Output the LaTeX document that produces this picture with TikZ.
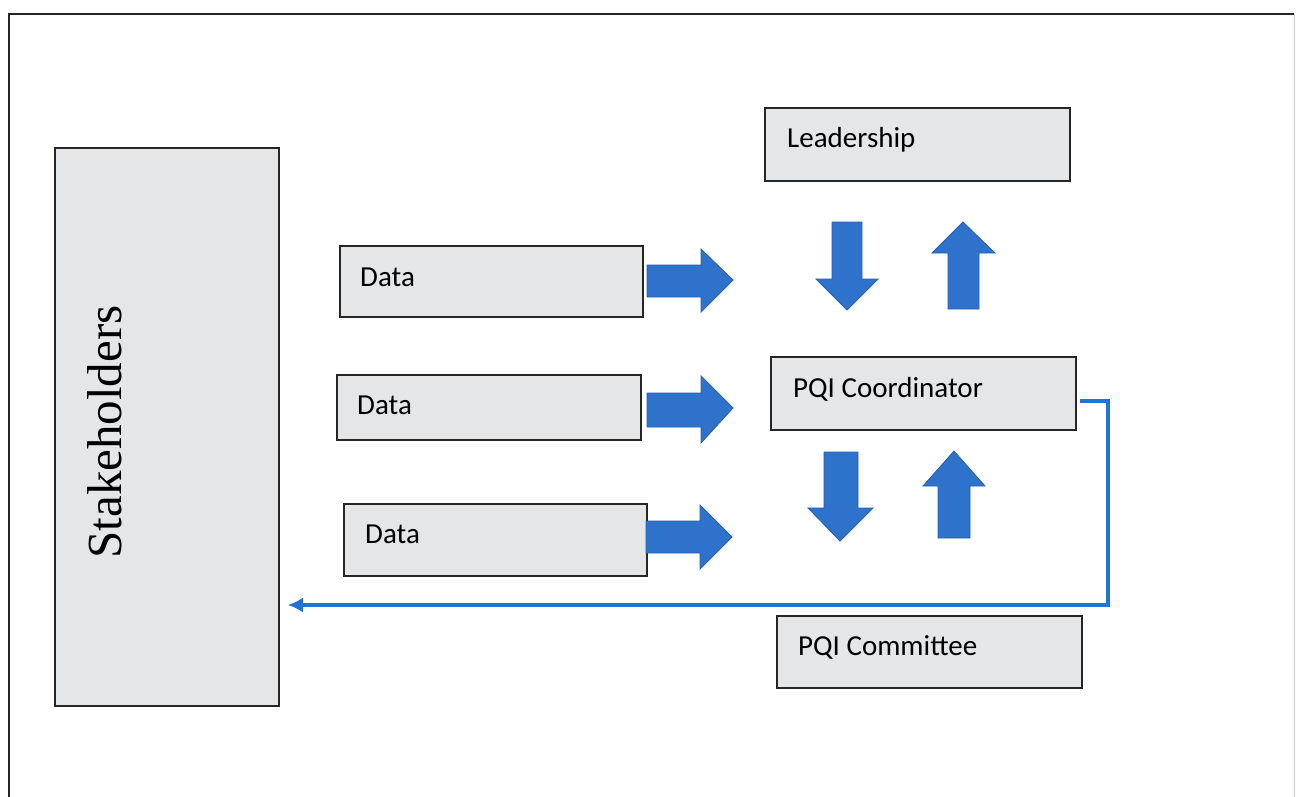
\documentclass[tikz,border=0pt]{standalone}
\usepackage{fontspec}
\setmainfont{Liberation Serif}
\newfontfamily\boxfont{Carlito}
\usetikzlibrary{arrows.meta}
\definecolor{boxgrey}{HTML}{E5E6E8}
\definecolor{arrowblue}{HTML}{2E72CC}
\definecolor{lineblue}{HTML}{1F74D6}
\tikzset{
  greybox/.style={draw=black!85, line width=1.6pt, fill=boxgrey},
  boxlabel/.style={anchor=base west, inner sep=0pt, font=\boxfont\fontsize{29}{30}\selectfont, text=black},
  blockarrow/.style={fill=arrowblue, draw=arrowblue!85!black, line width=0.8pt, line join=miter},
  feedback/.style={draw=lineblue, line width=3.2pt, -{Latex[length=15pt,width=15pt]}}
}
\begin{document}
\begin{tikzpicture}[x=1pt,y=-1pt]
\useasboundingbox (0,0) rectangle (1296,797);
% outer frame
\draw[black!85, line width=2pt] (9,820) -- (9,14) -- (1294,14);
\draw[black!20, line width=1pt] (1294,14) -- (1294,820);

% boxes
\node[greybox, minimum width=224pt, minimum height=558pt, inner sep=0pt] (stake) at (167,427) {};
\node[rotate=90, anchor=base, inner sep=0pt, font=\fontsize{49}{50}\selectfont] (stakelbl) at (121,432) {Stakeholders};

\node[greybox, minimum width=305pt, minimum height=73pt, inner sep=0pt] (lead) at (917.5,144.5) {};
\node[boxlabel] (leadlbl) at (787,148) {Leadership};

\node[greybox, minimum width=303pt, minimum height=71pt, inner sep=0pt] (data1) at (491.5,281.5) {};
\node[boxlabel] (d1lbl) at (360,286) {Data};

\node[greybox, minimum width=304pt, minimum height=65pt, inner sep=0pt] (data2) at (489,407.5) {};
\node[boxlabel] (d2lbl) at (357,414) {Data};

\node[greybox, minimum width=303pt, minimum height=72pt, inner sep=0pt] (data3) at (495.5,540) {};
\node[boxlabel] (d3lbl) at (365,543) {Data};

\node[greybox, minimum width=305pt, minimum height=73pt, inner sep=0pt] (coord) at (923.5,393.5) {};
\node[boxlabel] (coordlbl) at (793,397) {PQI Coordinator};

\node[greybox, minimum width=305pt, minimum height=72pt, inner sep=0pt] (comm) at (929.5,652) {};
\node[boxlabel] (commlbl) at (798,655) {PQI Committee};

% right block arrows
\path[blockarrow] (647,265) -- (701,265) -- (701,249) -- (733,280) -- (701,312) -- (701,297) -- (647,297) -- cycle;
\path[blockarrow] (647,393) -- (701,393) -- (701,376) -- (733,408) -- (701,443) -- (701,427) -- (647,427) -- cycle;
\path[blockarrow] (646,521) -- (700,521) -- (700,505) -- (732,537) -- (700,569) -- (700,553) -- (646,553) -- cycle;

% down / up arrows between leadership and coordinator
\path[blockarrow] (832,222) -- (862,222) -- (862,279) -- (878,279) -- (847,310) -- (816,279) -- (832,279) -- cycle;
\path[blockarrow] (948,309) -- (979,309) -- (979,253) -- (995,253) -- (963,222) -- (932,253) -- (948,253) -- cycle;

% down / up arrows between coordinator and committee
\path[blockarrow] (824,452) -- (858,452) -- (858,508) -- (873,508) -- (840,541) -- (808,508) -- (824,508) -- cycle;
\path[blockarrow] (938,538) -- (970,538) -- (970,486) -- (985,486) -- (954,451) -- (923,486) -- (938,486) -- cycle;

% feedback connector
\coordinate (c1) at (1108,401);
\coordinate (c2) at (1108,605);
\draw[feedback] ([xshift=3pt]coord.east |- c1) -- (c1) -- (c2) -- ([xshift=8pt]stake.east |- c2);
\end{tikzpicture}
\end{document}
